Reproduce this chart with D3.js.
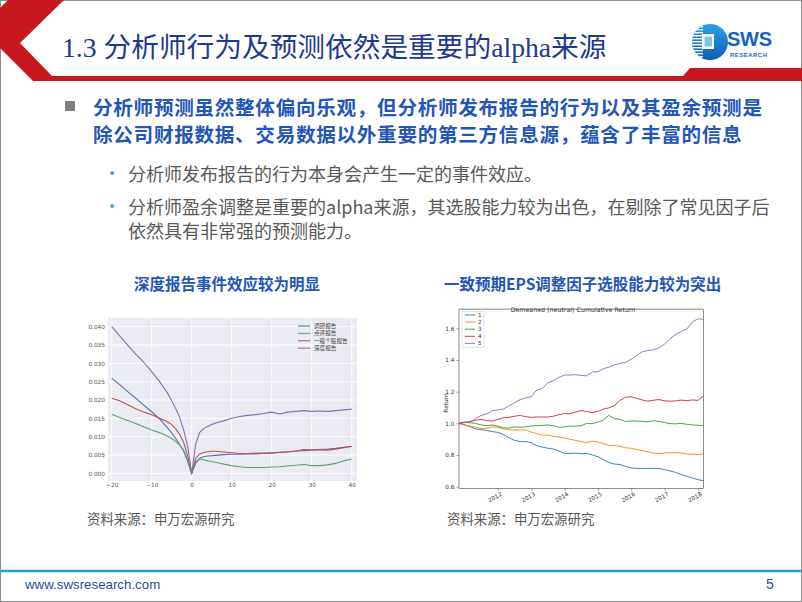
<!DOCTYPE html>
<html>
<head>
<meta charset="utf-8">
<script src="https://cdn.jsdelivr.net/npm/d3@7/dist/d3.min.js"></script>
<style>
  html, body { margin: 0; padding: 0; background: #fff; }
  svg { display: block; }
</style>
</head>
<body>
<svg id="slide" width="802" height="602"></svg>
<script>
// ---- left chart: event study around report date ----
const eventDays = [-20, -18, -16, -14, -12, -10, -8, -6, -5, -4, -3, -2, -1, 0, 1, 2, 3, 4, 5, 6,
  8, 10, 12, 14, 16, 18, 20, 22, 24, 26, 28, 30, 32, 34, 36, 38, 40];
const eventNames = ["调研报告", "点评报告", "一般个股报告", "深度报告"];
const researchRpt = [0.0259, 0.0242, 0.0223, 0.0205, 0.0186, 0.0168, 0.0148, 0.0123, 0.0110, 0.0095, 0.0078, 0.0060, 0.0032, 0.0,
  0.0028, 0.0041, 0.0045, 0.0047, 0.0048, 0.0049, 0.0051, 0.0052, 0.0052, 0.0053, 0.0053, 0.0054, 0.0055, 0.0057,
  0.0058, 0.0060, 0.0062, 0.0063, 0.0065, 0.0066, 0.0068, 0.0071, 0.0073];
const commentRpt = [0.0161, 0.0152, 0.0144, 0.0136, 0.0127, 0.0118, 0.0111, 0.0101, 0.0095, 0.0087, 0.0077, 0.0063, 0.0036, 0.0,
  0.0032, 0.0039, 0.0037, 0.0034, 0.0032, 0.0030, 0.0025, 0.0021, 0.0018, 0.0016, 0.0016, 0.0016, 0.0017, 0.0018,
  0.0020, 0.0022, 0.0024, 0.0021, 0.0021, 0.0023, 0.0027, 0.0034, 0.0039];
const generalRpt = [0.0205, 0.0198, 0.0187, 0.0176, 0.0167, 0.0160, 0.0150, 0.0140, 0.0133, 0.0121, 0.0106, 0.0084, 0.0047, 0.0,
  0.0041, 0.0053, 0.0057, 0.0059, 0.0060, 0.0060, 0.0058, 0.0056, 0.0054, 0.0054, 0.0055, 0.0055, 0.0056, 0.0057,
  0.0059, 0.0061, 0.0065, 0.0064, 0.0064, 0.0063, 0.0066, 0.0070, 0.0073];
const deepRpt = [0.0400, 0.0375, 0.0350, 0.0325, 0.0303, 0.0277, 0.0250, 0.0218, 0.0198, 0.0177, 0.0152, 0.0118, 0.0073, 0.0,
  0.0080, 0.0112, 0.0122, 0.0128, 0.0133, 0.0137, 0.0143, 0.0150, 0.0155, 0.0158, 0.0160, 0.0163, 0.0167, 0.0162,
  0.0167, 0.0169, 0.0171, 0.0169, 0.0170, 0.0169, 0.0171, 0.0173, 0.0175];
const eventYTicks = [0, 0.005, 0.01, 0.015, 0.02, 0.025, 0.03, 0.035, 0.04];
const eventXTicks = [-20, -10, 0, 10, 20, 30, 40];

// ---- right chart: quantile cumulative returns ----
const months = ["2010-11", "2011-01", "2011-03", "2011-05", "2011-07", "2011-09", "2011-11",
  "2012-01", "2012-03", "2012-05", "2012-07", "2012-09", "2012-11",
  "2013-01", "2013-03", "2013-05", "2013-07", "2013-09", "2013-11",
  "2014-01", "2014-03", "2014-05", "2014-07", "2014-09", "2014-11",
  "2015-01", "2015-03", "2015-05", "2015-07", "2015-09", "2015-11",
  "2016-01", "2016-03", "2016-05", "2016-07", "2016-09", "2016-11",
  "2017-01", "2017-03", "2017-05", "2017-07", "2017-09", "2017-11",
  "2018-01", "2018-03"];
const quantileNames = ["1", "2", "3", "4", "5"];
const q1 = [1.00, 0.99, 0.98, 0.965, 0.96, 0.955, 0.948, 0.943, 0.93, 0.91, 0.893, 0.885, 0.885, 0.878, 0.86,
  0.85, 0.843, 0.838, 0.825, 0.81, 0.81, 0.812, 0.808, 0.81, 0.80, 0.79, 0.77, 0.753, 0.743, 0.74, 0.728,
  0.718, 0.716, 0.715, 0.716, 0.716, 0.715, 0.708, 0.70, 0.69, 0.677, 0.665, 0.655, 0.645, 0.638];
const q2 = [1.00, 0.99, 0.983, 0.975, 0.968, 0.968, 0.978, 0.975, 0.965, 0.96, 0.958, 0.958, 0.96, 0.945, 0.935,
  0.926, 0.926, 0.918, 0.913, 0.908, 0.90, 0.892, 0.885, 0.878, 0.888, 0.882, 0.872, 0.862, 0.86, 0.855, 0.845,
  0.843, 0.835, 0.828, 0.821, 0.812, 0.81, 0.812, 0.815, 0.816, 0.813, 0.806, 0.805, 0.803, 0.806];
const q3 = [1.00, 1.005, 1.004, 1.00, 0.99, 0.985, 0.99, 0.982, 0.972, 0.97, 0.978, 0.975, 0.978, 0.983, 0.985,
  0.987, 0.99, 0.985, 0.975, 0.978, 0.982, 0.983, 0.985, 1.00, 0.998, 1.008, 1.02, 1.05, 1.03, 1.025, 1.012,
  1.015, 1.014, 1.012, 1.01, 1.016, 1.012, 1.005, 0.998, 0.997, 1.00, 0.994, 0.99, 0.988, 0.985];
const q4 = [1.00, 1.008, 1.01, 1.02, 1.025, 1.017, 1.015, 1.025, 1.035, 1.038, 1.045, 1.05, 1.042, 1.038, 1.04,
  1.04, 1.04, 1.045, 1.055, 1.062, 1.06, 1.072, 1.08, 1.075, 1.068, 1.075, 1.09, 1.098, 1.112, 1.145, 1.165,
  1.168, 1.158, 1.148, 1.14, 1.146, 1.15, 1.142, 1.14, 1.142, 1.147, 1.143, 1.148, 1.145, 1.172];
const q5 = [1.00, 1.005, 1.01, 1.03, 1.05, 1.06, 1.08, 1.085, 1.09, 1.11, 1.13, 1.15, 1.16, 1.168, 1.21,
  1.22, 1.255, 1.27, 1.29, 1.305, 1.305, 1.307, 1.303, 1.30, 1.325, 1.325, 1.345, 1.355, 1.37, 1.378, 1.385,
  1.405, 1.43, 1.452, 1.46, 1.463, 1.478, 1.50, 1.535, 1.56, 1.58, 1.595, 1.64, 1.66, 1.657];
const returnTicks = [0.6, 0.8, 1.0, 1.2, 1.4, 1.6];

const svg = d3.select("#slide");
const cjk = "'Noto Sans CJK SC', 'Noto Sans', sans-serif";

// slide frame
svg.append("rect").attr("x", 0.5).attr("y", 0.5).attr("width", 801).attr("height", 601)
  .attr("fill", "#fff").attr("stroke", "#8c8c8c");

// header red chevron + bar
svg.append("path")
  .attr("d", "M8,0 L64,0 L20,43 L52,76 L683,76 L690,68 L802,68 L802,81 L33,81 L0,48 L0,8 Z")
  .attr("fill", "#c8171e");

svg.append("text")
  .attr("x", 62).attr("y", 57)
  .attr("font-family", "'Liberation Serif', 'Noto Sans CJK SC', serif")
  .attr("font-size", 27.7).attr("fill", "#1d3a91")
  .text("1.3 分析师行为及预测依然是重要的alpha来源");

// logo
const logo = svg.append("g");
const defs = svg.append("defs");
const grad = defs.append("linearGradient").attr("id", "lg")
  .attr("x1", "0%").attr("y1", "0%").attr("x2", "0%").attr("y2", "100%");
grad.append("stop").attr("offset", "0%").attr("stop-color", "#2aa3e6");
grad.append("stop").attr("offset", "100%").attr("stop-color", "#0b5cb3");
defs.append("clipPath").attr("id", "lc")
  .append("circle").attr("cx", 710).attr("cy", 42).attr("r", 18);
logo.append("circle").attr("cx", 710).attr("cy", 42).attr("r", 18).attr("fill", "url(#lg)");
const stripes = logo.append("g").attr("clip-path", "url(#lc)");
d3.range(26, 60, 3).forEach(y => {
  stripes.append("rect").attr("x", 690).attr("y", y).attr("width", 13).attr("height", 1.4).attr("fill", "#fff");
});
logo.append("rect").attr("x", 702).attr("y", 34).attr("width", 12).attr("height", 15).attr("fill", "#fff");
logo.append("rect").attr("x", 704.5).attr("y", 36.5).attr("width", 7.5).attr("height", 10).attr("fill", "#7fc6ef");
logo.append("text").attr("x", 727).attr("y", 46)
  .attr("font-family", "'Liberation Sans', Arial, sans-serif").attr("font-weight", "bold")
  .attr("font-size", 20).attr("fill", "#1565c0").attr("textLength", 45).text("SWS");
logo.append("text").attr("x", 730).attr("y", 56.5)
  .attr("font-family", "'Liberation Sans', Arial, sans-serif").attr("font-weight", "bold")
  .attr("font-size", 6).attr("fill", "#1565c0").attr("textLength", 37).text("RESEARCH");

// bullet text
svg.append("rect").attr("x", 65).attr("y", 101).attr("width", 10).attr("height", 10).attr("fill", "#7f7f7f");
const boldLines = ["分析师预测虽然整体偏向乐观，但分析师发布报告的行为以及其盈余预测是",
  "除公司财报数据、交易数据以外重要的第三方信息源，蕴含了丰富的信息"];
boldLines.forEach((t, i) => {
  svg.append("text").attr("x", 93).attr("y", 115 + i * 26.5)
    .attr("font-family", cjk).attr("font-weight", "bold").attr("font-size", 19.6)
    .attr("letter-spacing", 0.7).attr("fill", "#2456b8").text(t);
});

const subParas = [
  { lines: ["分析师发布报告的行为本身会产生一定的事件效应。"], y: 181 },
  { lines: ["分析师盈余调整是重要的alpha来源，其选股能力较为出色，在剔除了常见因子后",
    "依然具有非常强的预测能力。"], y: 214 }
];
subParas.forEach(p => {
  svg.append("text").attr("x", 103).attr("y", p.y - 1).attr("font-family", cjk)
    .attr("font-size", 18).attr("fill", "#2aa2dc").text("•");
  p.lines.forEach((t, i) => {
    svg.append("text").attr("x", 128).attr("y", p.y + i * 24).attr("font-family", cjk)
      .attr("font-size", 18).attr("fill", "#595959").text(t);
  });
});

// chart titles and sources
svg.append("text").attr("x", 134).attr("y", 290).attr("font-family", cjk).attr("font-weight", "bold")
  .attr("font-size", 15.5).attr("fill", "#2456b8").text("深度报告事件效应较为明显");
svg.append("text").attr("x", 444).attr("y", 290).attr("font-family", cjk).attr("font-weight", "bold")
  .attr("font-size", 15.5).attr("fill", "#2456b8").text("一致预期EPS调整因子选股能力较为突出");
[87, 447].forEach(x => {
  svg.append("text").attr("x", x).attr("y", 524).attr("font-family", cjk)
    .attr("font-size", 13.4).attr("fill", "#595959").text("资料来源：申万宏源研究");
});

// ---------- left chart (seaborn darkgrid look) ----------
const xL = d3.scaleLinear().domain([-20, 40]).range([111.7, 351.7]);
const yL = d3.scaleLinear().domain([0, 0.04]).range([473.3, 326.7]);
const gL = svg.append("g");
gL.append("rect").attr("x", 108).attr("y", 318).attr("width", 249).attr("height", 163).attr("fill", "#eaeaf2");
gL.selectAll("line.gy").data(eventYTicks).join("line").attr("class", "gy")
  .attr("x1", 108).attr("x2", 357).attr("y1", d => yL(d)).attr("y2", d => yL(d))
  .attr("stroke", "#fff").attr("stroke-width", 0.9);
gL.selectAll("line.gx").data(eventXTicks).join("line").attr("class", "gx")
  .attr("y1", 318).attr("y2", 481).attr("x1", d => xL(d)).attr("x2", d => xL(d))
  .attr("stroke", "#fff").attr("stroke-width", 0.9);
const yAxisL = d3.axisLeft(yL).tickValues(eventYTicks).tickFormat(d3.format(".3f")).tickSize(0).tickPadding(3);
gL.append("g").attr("transform", "translate(108,0)").call(yAxisL)
  .call(g => g.select(".domain").remove())
  .selectAll("text").attr("font-size", 5.8).attr("fill", "#555").attr("font-family", "'DejaVu Sans', sans-serif");
const xAxisL = d3.axisBottom(xL).tickValues(eventXTicks).tickSize(0).tickPadding(2);
gL.append("g").attr("transform", "translate(0,481)").call(xAxisL)
  .call(g => g.select(".domain").remove())
  .selectAll("text").attr("font-size", 5.8).attr("fill", "#555").attr("font-family", "'DejaVu Sans', sans-serif");
const eventColors = ["#4c72b0", "#55a868", "#c44e52", "#8172b2"];
const eventSeries = [researchRpt, commentRpt, generalRpt, deepRpt];
const lineL = d3.line().x((d, i) => xL(eventDays[i])).y(d => yL(d));
eventSeries.forEach((s, i) => {
  gL.append("path").datum(s).attr("d", lineL).attr("fill", "none")
    .attr("stroke", eventColors[i]).attr("stroke-width", 1.1);
});
eventNames.forEach((n, i) => {
  const y = 326 + i * 7.4;
  gL.append("line").attr("x1", 298).attr("x2", 310).attr("y1", y).attr("y2", y)
    .attr("stroke", eventColors[i]).attr("stroke-width", 1);
  gL.append("text").attr("x", 314).attr("y", y + 2).attr("font-family", cjk)
    .attr("font-size", 5.6).attr("fill", "#444").text(n);
});

// ---------- right chart (matplotlib look) ----------
const parseM = d3.timeParse("%Y-%m");
const dates = months.map(parseM);
const xR = d3.scaleTime().domain([dates[0], dates[dates.length - 1]]).range([459, 703.3]);
const yR = d3.scaleLinear().domain([0.59, 1.72]).range([488.3, 309.3]);
const gR = svg.append("g");
const quantColors = ["#1f77b4", "#ff7f0e", "#2ca02c", "#d62728", "#9467bd"];
const quantSeries = [q1, q2, q3, q4, q5];
const lineR = d3.line().x((d, i) => xR(dates[i])).y(d => yR(d));
quantSeries.forEach((s, i) => {
  gR.append("path").datum(s).attr("d", lineR).attr("fill", "none")
    .attr("stroke", quantColors[i]).attr("stroke-width", 0.9);
});
gR.append("rect").attr("x", 459).attr("y", 309.3).attr("width", 244.3).attr("height", 179)
  .attr("fill", "none").attr("stroke", "#444").attr("stroke-width", 0.6);
gR.append("line").attr("x1", 459).attr("x2", 703.3).attr("y1", 309.3).attr("y2", 309.3)
  .attr("stroke", "#aaa").attr("stroke-width", 1.6);
const yAxisR = d3.axisLeft(yR).tickValues(returnTicks).tickFormat(d3.format(".1f")).tickSize(2.5).tickPadding(2);
gR.append("g").attr("transform", "translate(459,0)").call(yAxisR)
  .call(g => g.select(".domain").remove())
  .call(g => g.selectAll("line").attr("stroke", "#444").attr("stroke-width", 0.5))
  .selectAll("text").attr("font-size", 5.8).attr("fill", "#333").attr("font-family", "'DejaVu Sans', sans-serif");
const yearTicks = d3.timeYear.range(new Date(2012, 0, 1), new Date(2018, 1, 1));
const xAxisR = d3.axisBottom(xR).tickValues(yearTicks).tickFormat(d3.timeFormat("%Y")).tickSize(2.5).tickPadding(2);
gR.append("g").attr("transform", "translate(0,488.3)").call(xAxisR)
  .call(g => g.select(".domain").remove())
  .call(g => g.selectAll("line").attr("stroke", "#444").attr("stroke-width", 0.5))
  .selectAll("text").attr("font-size", 5.8).attr("fill", "#333").attr("font-family", "'DejaVu Sans', sans-serif")
  .attr("text-anchor", "end").attr("dy", "0.6em").attr("transform", "rotate(-30)");
gR.append("text").attr("x", 573).attr("y", 312).attr("text-anchor", "middle")
  .attr("font-family", "'DejaVu Sans', sans-serif").attr("font-size", 6.3).attr("fill", "#333")
  .text("Demeaned (neutral) Cumulative Return");
gR.append("text").attr("transform", "translate(448,403) rotate(-90)").attr("text-anchor", "middle")
  .attr("font-family", "'DejaVu Sans', sans-serif").attr("font-size", 5.8).attr("fill", "#333").text("Return");
gR.append("rect").attr("x", 462).attr("y", 311.5).attr("width", 22).attr("height", 36)
  .attr("fill", "#fff").attr("fill-opacity", 0.85).attr("stroke", "#ccc").attr("stroke-width", 0.5);
quantileNames.forEach((n, i) => {
  const y = 315 + i * 7.1;
  gR.append("line").attr("x1", 465).attr("x2", 475).attr("y1", y).attr("y2", y)
    .attr("stroke", quantColors[i]).attr("stroke-width", 0.9);
  gR.append("text").attr("x", 478).attr("y", y + 2).attr("font-family", "'DejaVu Sans', sans-serif")
    .attr("font-size", 5.6).attr("fill", "#333").text(n);
});

// footer
svg.append("line").attr("x1", 1).attr("x2", 801).attr("y1", 571).attr("y2", 571)
  .attr("stroke", "#2a9bcf").attr("stroke-width", 2.5);
svg.append("text").attr("x", 25).attr("y", 589).attr("font-family", "'Liberation Sans', Arial, sans-serif")
  .attr("font-size", 13.3).attr("fill", "#1f4e9c").text("www.swsresearch.com");
svg.append("text").attr("x", 766).attr("y", 589).attr("font-family", "'Liberation Sans', Arial, sans-serif")
  .attr("font-size", 14).attr("fill", "#1f4e9c").text("5");
</script>
</body>
</html>
